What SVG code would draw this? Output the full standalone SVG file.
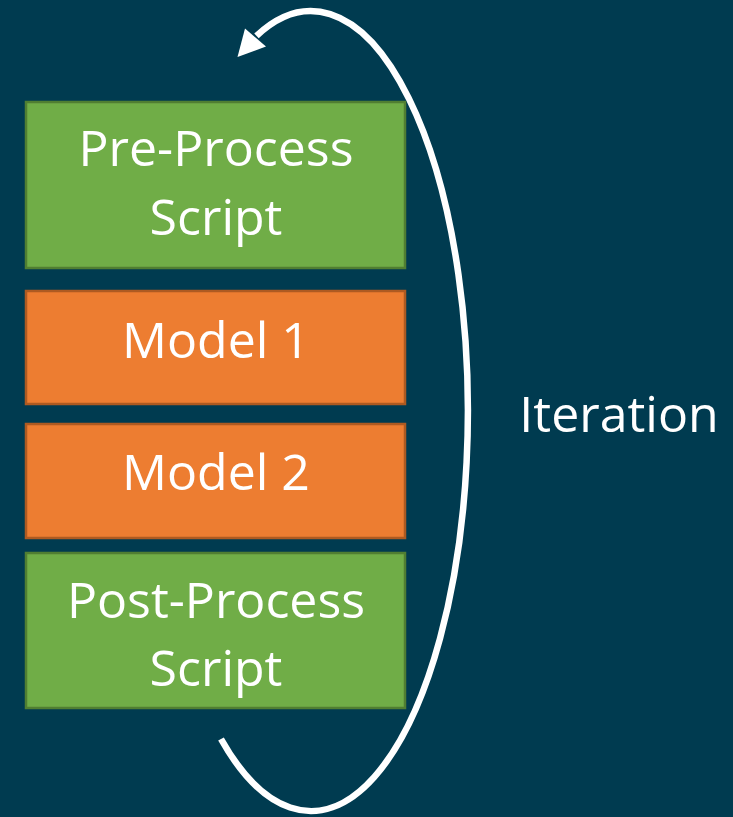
<svg xmlns="http://www.w3.org/2000/svg" width="733" height="817" viewBox="0 0 733 817">
  <style>
    .green { fill: #70AD47; stroke: #507E32; stroke-width: 2.5; }
    .orange { fill: #ED7D31; stroke: #AE5A21; stroke-width: 2.5; }
    .label { font-family: "Open Sans", "Liberation Sans", sans-serif; font-size: 50px; fill: #FFFFFF; text-anchor: middle; }
    .loop { fill: none; stroke: #FFFFFF; stroke-width: 6.5; }
  </style>
  <rect width="733" height="817" fill="#003B50"/>

  <g id="connectors">
    <!-- elliptical loop around the stack, arrowhead at upper-left -->
    <path class="loop" d="M 221 739 A 157 400 0 1 0 256.5 35.8"/>
    <polygon points="237.5,57 245,28.5 266,46.5" fill="#FFFFFF"/>
  </g>

  <g id="pre-process">
    <rect class="green" x="26" y="102" width="379" height="166"/>
    <text class="label" x="216" y="166">Pre-Process</text>
    <text class="label" x="216" y="235">Script</text>
  </g>

  <g id="model-1">
    <rect class="orange" x="26" y="291" width="379" height="113"/>
    <text class="label" x="216" y="358">Model 1</text>
  </g>

  <g id="model-2">
    <rect class="orange" x="26" y="424" width="379" height="114"/>
    <text class="label" x="216" y="490">Model 2</text>
  </g>

  <g id="post-process">
    <rect class="green" x="26" y="553" width="379" height="155"/>
    <text class="label" x="216" y="618">Post-Process</text>
    <text class="label" x="216" y="686">Script</text>
  </g>

  <g id="iteration">
    <text class="label" x="619" y="432">Iteration</text>
  </g>
</svg>
